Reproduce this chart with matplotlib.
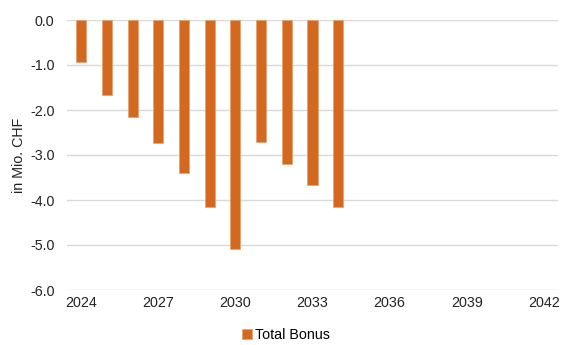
import matplotlib
matplotlib.use("Agg")
import matplotlib.pyplot as plt

plt.rcParams['font.family'] = ['Liberation Sans', 'DejaVu Sans']

years = [2024, 2025, 2026, 2027, 2028, 2029, 2030, 2031, 2032, 2033, 2034]
bonus = [-0.93, -1.67, -2.16, -2.74, -3.40, -4.16, -5.08, -2.71, -3.19, -3.67, -4.16]
xticks = [2024, 2027, 2030, 2033, 2036, 2039, 2042]
yticks = [0, -1, -2, -3, -4, -5, -6]

fig = plt.figure(figsize=(5.61, 3.45), dpi=100)
ax = fig.add_axes([67/561, 55/345, 491/561, 270/345])

ax.bar(years, bonus, width=0.39, color='#D3691F', edgecolor='#E8A070',
       linewidth=0.5, label='Total Bonus', zorder=3)

ax.set_xlim(2023.45, 2042.55)
ax.set_ylim(-6, 0)
ax.set_xticks(xticks)
ax.set_yticks(yticks)
ax.set_yticklabels([f"{v:.1f}" for v in yticks])
ax.tick_params(length=0, labelsize=10.3, colors='#222222')
ax.tick_params(axis='y', pad=9)
ax.tick_params(axis='x', pad=4)
ax.grid(axis='y', color='#d9d9d9', linewidth=1, zorder=0)
for s in ax.spines.values():
    s.set_visible(False)
ax.set_ylabel('in Mio. CHF', fontsize=10.3, color='#222222', labelpad=3)

fig.legend(loc='lower center', bbox_to_anchor=(0.51, -0.028), frameon=False,
           fontsize=10.3, handlelength=0.7, handleheight=0.7, handletextpad=0.2)

fig.savefig('out.png', dpi=100)
